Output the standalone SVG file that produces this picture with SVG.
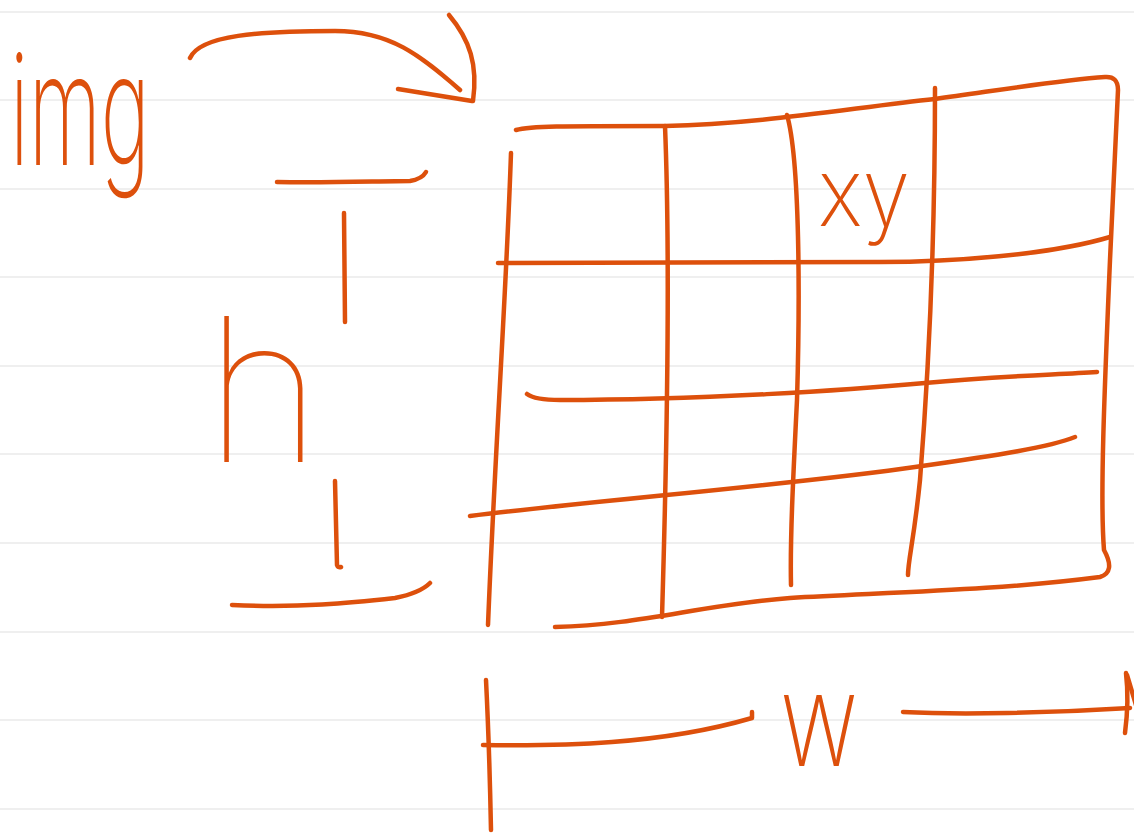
<svg xmlns="http://www.w3.org/2000/svg" width="1134" height="833" viewBox="0 0 1134 833">
<style>
.ruled{stroke:#EFEFEF;stroke-width:2;fill:none}
.ink{stroke:#DD500C;stroke-width:4.5;fill:none;stroke-linecap:round;stroke-linejoin:round}
.lbl{fill:#DD500C;font-family:Inter,"Liberation Sans",sans-serif;font-weight:200}
.thin{font-weight:100}
</style>
<rect width="1134" height="833" fill="#FFFFFF"/>
<g id="paper">
<line class="ruled" x1="0" y1="12" x2="1134" y2="12"/>
<line class="ruled" x1="0" y1="100" x2="1134" y2="100"/>
<line class="ruled" x1="0" y1="189" x2="1134" y2="189"/>
<line class="ruled" x1="0" y1="277" x2="1134" y2="277"/>
<line class="ruled" x1="0" y1="366" x2="1134" y2="366"/>
<line class="ruled" x1="0" y1="454" x2="1134" y2="454"/>
<line class="ruled" x1="0" y1="543" x2="1134" y2="543"/>
<line class="ruled" x1="0" y1="632" x2="1134" y2="632"/>
<line class="ruled" x1="0" y1="720" x2="1134" y2="720"/>
<line class="ruled" x1="0" y1="809" x2="1134" y2="809"/>
</g>
<g id="img-label">
<text class="lbl" x="10" y="165" font-size="155" textLength="140" lengthAdjust="spacingAndGlyphs">img</text>
</g>
<g id="grid">
<path class="ink" d="M516,130 C530,126 560,126 665,126 C760,124 850,108 935,99 C1000,90 1060,80 1105,77 Q1118,76 1118,90 L1110,260 C1104,400 1100,500 1104,550 Q1116,572 1100,577 C1000,590 900,592 790,598 C700,605 640,625 555,627"/>
<path class="ink" d="M511,153 C506,300 495,450 488,625"/>
<path class="ink" d="M665,126 C670,250 667,450 662,617"/>
<path class="ink" d="M787,115 C800,160 800,300 797,400 C793,480 790,540 791,585"/>
<path class="ink" d="M935,88 C935,250 928,380 920,480 C914,540 908,560 908,575"/>
<path class="ink" d="M498,263 L880,262 C950,262 1050,255 1110,237"/>
<path class="ink" d="M527,394 Q535,400 560,400 C700,400 850,390 925,383 C1000,376 1050,375 1097,372"/>
<path class="ink" d="M470,516 C600,500 800,484 915,467 C1000,455 1050,447 1075,437"/>
<text class="lbl" x="818" y="226" font-size="95" textLength="92" lengthAdjust="spacingAndGlyphs">xy</text>
</g>
<g id="h-label">
<text class="lbl thin" x="205" y="462" font-size="200">h</text>
</g>
<g id="w-label">
<text class="lbl" x="780" y="766" font-size="130" textLength="78" lengthAdjust="spacingAndGlyphs">w</text>
</g>
<g id="connectors">
<path class="ink" d="M190,58 C200,35 260,31 335,31 C390,31 420,55 460,90"/>
<path class="ink" d="M398,89 L472,101"/>
<path class="ink" d="M449,15 C470,40 478,65 473,101"/>
<path class="ink" d="M277,182 C330,183 380,181 410,181 Q422,179 426,172"/>
<path class="ink" d="M344,213 L345,322"/>
<path class="ink" d="M335,481 L337,565 Q338,568 341,567"/>
<path class="ink" d="M232,605 C300,608 350,603 395,598 Q420,593 430,583"/>
<path class="ink" d="M486,680 C488,720 490,780 491,830"/>
<path class="ink" d="M483,745 C560,746 660,745 752,718 L752,712"/>
<path class="ink" d="M903,712 C960,715 1050,713 1130,708"/>
<path class="ink" d="M1126,673 C1128,690 1128,710 1125,733"/>
<path class="ink" d="M1127,675 L1136,705"/>
</g>
</svg>
